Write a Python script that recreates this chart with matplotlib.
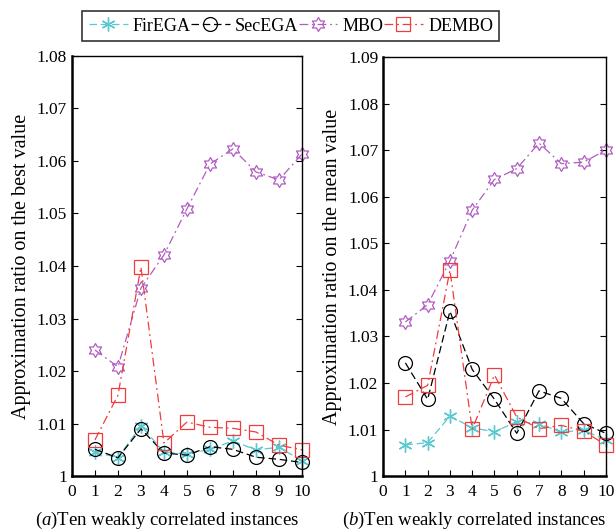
import numpy as np
import matplotlib
matplotlib.use("Agg")
import matplotlib.pyplot as plt
from matplotlib.path import Path
from matplotlib.ticker import FuncFormatter

plt.rcParams['font.family'] = ['Liberation Serif', 'DejaVu Serif']
plt.rcParams['mathtext.fontset'] = 'custom'
plt.rcParams['mathtext.rm'] = 'Liberation Serif'
plt.rcParams['mathtext.it'] = 'Liberation Serif:italic'

x = np.arange(1, 11)

# (a) best value
best_fir = [1.0046, 1.0035, 1.0096, 1.0046, 1.0042, 1.0051, 1.0067, 1.0050, 1.0055, 1.0029]
best_sec = [1.0051, 1.0035, 1.0090, 1.0044, 1.0040, 1.0056, 1.0051, 1.0036, 1.0032, 1.0026]
best_mbo = [1.0240, 1.0208, 1.0358, 1.0421, 1.0509, 1.0594, 1.0623, 1.0579, 1.0564, 1.0613]
best_dembo = [1.0069, 1.0154, 1.0398, 1.0063, 1.0103, 1.0093, 1.0091, 1.0084, 1.0059, 1.0050]

# (b) mean value
mean_fir = [1.0067, 1.0072, 1.0129, 1.0104, 1.0095, 1.0117, 1.0113, 1.0094, 1.0099, 1.0077]
mean_sec = [1.0243, 1.0165, 1.0354, 1.0229, 1.0165, 1.0092, 1.0183, 1.0167, 1.0113, 1.0092]
mean_mbo = [1.0331, 1.0368, 1.0462, 1.0571, 1.0637, 1.0660, 1.0715, 1.0671, 1.0674, 1.0700]
mean_dembo = [1.0170, 1.0195, 1.0442, 1.0101, 1.0217, 1.0127, 1.0102, 1.0109, 1.0097, 1.0067]

names = ['FirEGA', 'SecEGA', 'MBO', 'DEMBO']

# hexagram outline marker
ang = np.pi / 2 + np.arange(12) * np.pi / 6
rad = np.where(np.arange(12) % 2 == 0, 1.0, 1 / np.sqrt(3))
verts = np.column_stack([rad * np.cos(ang), rad * np.sin(ang)])
verts = np.vstack([verts, verts[0]])
hexagram = Path(verts, [Path.MOVETO] + [Path.LINETO] * 11 + [Path.CLOSEPOLY])

styles = [
    dict(color='#5cc8d2', ls=(0, (6, 3)), marker=(6, 2, 0), ms=10, mec='#5cc8d2', mew=1.0),
    dict(color='black', ls=(0, (6, 3)), marker='o', ms=10, mfc='none', mew=0.9),
    dict(color='#b05cc0', ls=(0, (7, 3, 1.5, 3)), marker=hexagram, ms=10, mfc='none', mew=0.9),
    dict(color='#f03c3c', ls=(0, (7, 3, 1.5, 3)), marker='s', ms=10, mfc='none', mew=0.9),
]

fig = plt.figure(figsize=(6.15, 5.32), dpi=100)
ax1 = fig.add_axes([0.117, 0.105, 0.374, 0.790])
ax2 = fig.add_axes([0.623, 0.105, 0.362, 0.788])

fmt = FuncFormatter(lambda v, p: '%g' % round(v, 4))

panels = [
    (ax1, [best_fir, best_sec, best_mbo, best_dembo], 1.08,
     'Approximation ratio on the best value'),
    (ax2, [mean_fir, mean_sec, mean_mbo, mean_dembo], 1.09,
     'Approximation ratio on the mean value'),
]

handles = []
for ax, series, top, ylab in panels:
    hs = []
    for name, ys, st in zip(names, series, styles):
        h, = ax.plot(x, ys, lw=0.9, label=name, clip_on=False, **st)
        hs.append(h)
    handles = hs
    ax.set_xlim(0, 10)
    ax.set_ylim(1.0, top)
    ax.set_xticks(range(0, 11))
    ax.set_yticks(np.arange(1.0, top + 0.001, 0.01))
    ax.yaxis.set_major_formatter(fmt)
    ax.tick_params(direction='in', labelsize=12.5, length=4, width=0.8,
                   right=True, top=False)
    ax.tick_params(axis='x', pad=6)
    ax.set_ylabel(ylab, fontsize=14.5, labelpad=4)
    ax.spines['left'].set_linewidth(1.8)
    ax.spines['bottom'].set_linewidth(1.8)
    ax.spines['top'].set_linewidth(1.0)
    ax.spines['right'].set_linewidth(1.0)

fig.text(0.272, 0.002, r'($\it{a}$)Ten weakly correlated instances',
         ha='center', va='bottom', fontsize=13.5)
fig.text(0.771, 0.002, r'($\it{b}$)Ten weakly correlated instances',
         ha='center', va='bottom', fontsize=13.5)

leg = fig.legend(handles=handles, loc='center', bbox_to_anchor=(0.473, 0.951),
                 ncol=4, fontsize=13, frameon=True, fancybox=False,
                 edgecolor='black', handlelength=2.15, columnspacing=0.0,
                 handletextpad=0.3, borderpad=0.35)
leg.get_frame().set_linewidth(1.2)

fig.savefig('out.png', dpi=100)
